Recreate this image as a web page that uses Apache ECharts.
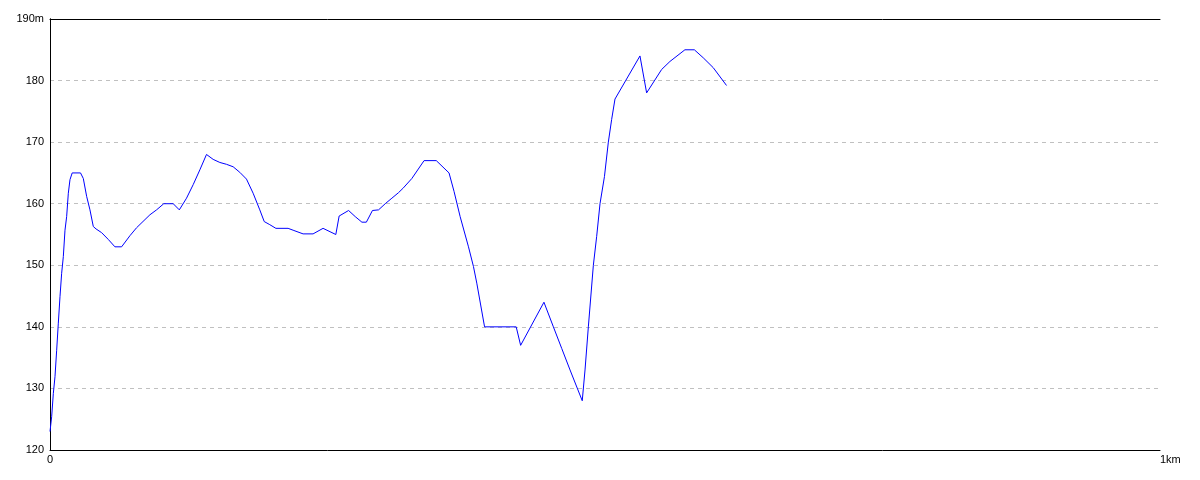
<!DOCTYPE html>
<html>
<head>
<meta charset="utf-8">
<script src="https://cdn.jsdelivr.net/npm/echarts@6/dist/echarts.min.js"></script>
<style>
html,body{margin:0;padding:0;background:#fff;}
#chart{width:1200px;height:480px;}
</style>
</head>
<body>
<div id="chart"></div>
<script>
// distance along route (m)
var distances = [0, 1.5, 3, 4.5, 6, 7.5, 9, 10.5, 12, 13.5, 15, 16.5, 18, 20, 27.5, 30, 33, 36, 39, 41.5,
  46.5, 52.5, 58.5, 64.5, 72, 78, 90, 96, 102.5, 111, 116.5, 123, 129, 135, 141, 147, 153, 159, 165, 171,
  177, 183, 189, 193, 198, 203.5, 214.5, 219, 228, 237, 246, 257.5, 260.5, 269, 275, 281, 285, 290.5, 296, 302,
  308, 314, 318, 326, 337, 348, 359.5, 364, 369.5, 377, 381.5, 384.5, 391.5, 420, 424, 445, 453.5, 461, 468.5, 479.5,
  482, 485, 489.5, 492.5, 495.5, 499.5, 503, 506, 509, 531.5, 537.5, 551, 558.5, 572, 580.5, 588.5, 597.5, 609.5];
// elevation (m)
var elevations = [123, 125.4, 129.2, 131.9, 136.2, 140.6, 144.9, 148.7, 151.4, 155.7, 157.9, 161.7, 163.9, 165, 165, 164.1, 161.2, 159, 156.3, 155.9,
  155.3, 154.2, 153, 153, 154.8, 156.1, 158.2, 159, 160, 160, 159, 160.9, 163.1, 165.5, 168, 167.2, 166.7, 166.4, 166, 165.1,
  164, 161.7, 159, 157.1, 156.6, 156, 156, 155.7, 155.1, 155.1, 156, 155, 158, 158.9, 157.9, 157, 157, 158.9, 159, 160,
  160.9, 161.8, 162.5, 164.1, 167, 167, 165, 162, 157.9, 153, 149.8, 147.1, 140, 140, 137, 144, 140, 136.5, 133, 128,
  133, 140, 150, 154.7, 160, 164.4, 170, 173.7, 177, 184, 178, 181.8, 183.1, 185, 185, 183.7, 182.1, 179.2];
var yTicks = [120, 130, 140, 150, 160, 170, 180, 190];
var yLabels = ['120', '130', '140', '150', '160', '170', '180', '190m'];
var xTicks = [0, 1000];
var xLabels = ['0', '1km'];

var data = distances.map(function (d, i) { return [d, elevations[i]]; });
var font = 'Liberation Sans, Arial, sans-serif';
var chart = echarts.init(document.getElementById('chart'), null, {renderer: 'canvas'});
chart.setOption({
  animation: false,
  backgroundColor: '#ffffff',
  grid: {left: 50, right: 40, top: 19, bottom: 30, show: false},
  xAxis: [{
    type: 'value', min: xTicks[0], max: xTicks[xTicks.length - 1], interval: 1000,
    axisLine: {show: true, onZero: false, lineStyle: {color: '#000', width: 1}},
    axisTick: {show: false},
    splitLine: {show: false},
    axisLabel: {
      color: '#000', fontSize: 11, fontFamily: font, margin: 4, alignMaxLabel: 'left',
      formatter: function (v) { var i = xTicks.indexOf(v); return i >= 0 ? xLabels[i] : ''; }
    }
  }, {
    type: 'value', position: 'top', min: 0, max: 1000, interval: 1000,
    axisLine: {show: true, lineStyle: {color: '#000', width: 1}},
    axisTick: {show: false}, axisLabel: {show: false}, splitLine: {show: false}
  }],
  yAxis: [{
    type: 'value', min: 120, max: 190, interval: 10,
    axisLine: {show: true, onZero: false, lineStyle: {color: '#000', width: 1}},
    axisTick: {show: false},
    splitLine: {show: true, showMinLine: false, showMaxLine: false, lineStyle: {color: '#c0c0c0', type: [4, 4], width: 1}},
    axisLabel: {
      color: '#000', fontSize: 11, fontFamily: font, margin: 6,
      formatter: function (v) { var i = yTicks.indexOf(v); return i >= 0 ? yLabels[i] : ''; }
    }
  }, {
    type: 'value', position: 'right', min: 120, max: 190, interval: 10,
    axisLine: {show: true, lineStyle: {color: '#000', width: 1}},
    axisTick: {show: false}, axisLabel: {show: false}, splitLine: {show: false}
  }],
  series: [{
    type: 'line', xAxisIndex: 0, yAxisIndex: 0,
    data: data, showSymbol: false, symbol: 'none', smooth: false,
    lineStyle: {color: '#0000ff', width: 1},
    z: 5
  }]
});
</script>
</body>
</html>
